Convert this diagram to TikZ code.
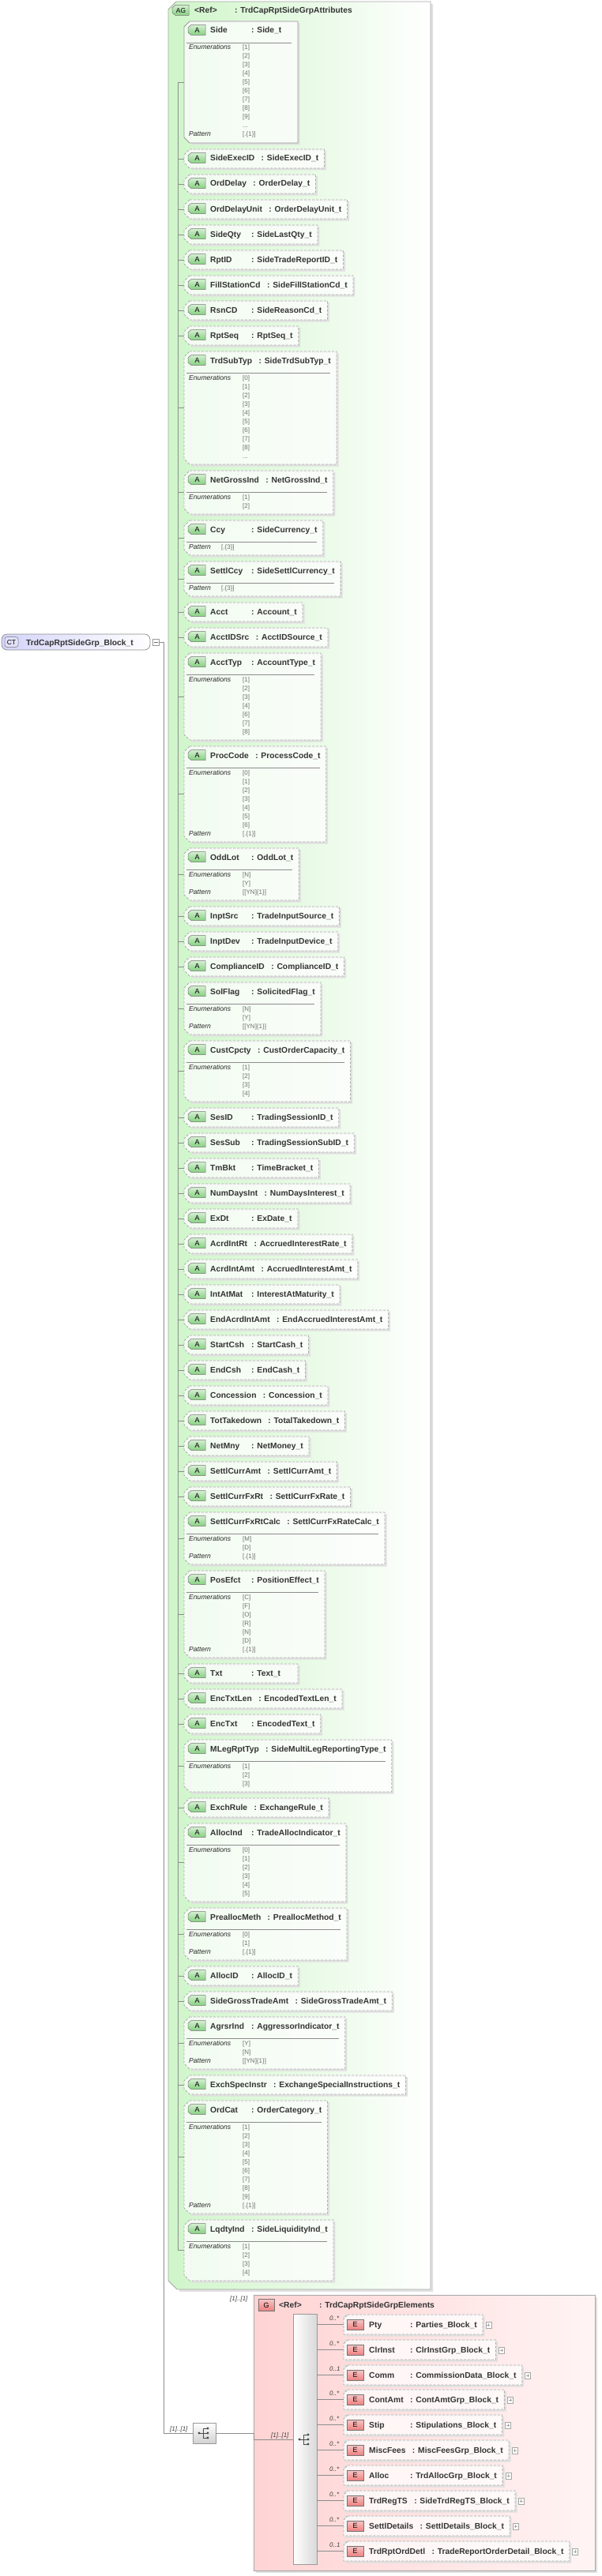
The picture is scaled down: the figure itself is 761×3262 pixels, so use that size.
\documentclass[tikz,border=0pt]{standalone}
\usepackage{fontspec}
\setmainfont{Liberation Sans}
\usetikzlibrary{calc}
\pgfdeclarelayer{bg}\pgfdeclarelayer{mid}
\pgfsetlayers{bg,mid,main}
\definecolor{agreen}{HTML}{CFF5C9}
\definecolor{icong}{HTML}{86D080}
\definecolor{gred}{HTML}{FFD3D3}
\definecolor{ered}{HTML}{EE8080}
\definecolor{ctblue}{HTML}{D4D4FA}
\definecolor{valgrey}{HTML}{707070}
\tikzset{
 hdr/.style={font=\bfseries\fontsize{10.3}{12}\selectfont, text=black!80, inner sep=0pt, anchor=base west},
 lab/.style={font=\itshape\fontsize{8.6}{10}\selectfont, text=black!85, inner sep=0pt, anchor=base west},
 val/.style={font=\fontsize{8}{10}\selectfont, text=valgrey, inner sep=0pt, anchor=base west},
 card/.style={font=\itshape\fontsize{8}{10}\selectfont, text=black!75, inner sep=0pt, anchor=base west},
 conn/.style={draw=black!45, line width=0.6pt},
 optbox/.style={draw=black!32, dash pattern=on 3pt off 2pt, fill=white, fill opacity=0.72, line width=0.8pt},
 reqbox/.style={draw=black!40, fill=white, fill opacity=0.72, line width=0.8pt},
 shbox/.style={fill=black!12, even odd rule},
}
\newdimen\tmpd
\newcount\attrn
\newcount\elemn
\def\hy{38}
\def\firstmid{}
\newcommand\aicon[3]{%
  \draw[draw=black!55, top color=icong!35, bottom color=icong, line width=0.5pt]
    (#1+4,#2-6.5) -- (#1+#3,#2-6.5) -- (#1+#3,#2+6.5) -- (#1+4,#2+6.5) -- (#1,#2+3) -- (#1,#2-3) -- cycle;
}
\newcommand\attr[6][optbox]{%
  \global\advance\attrn by 1
  \pgfmathsetmacro\ah{\hy}%
  \aicon{238}{\ah}{22}
  \node[font=\fontsize{9}{10}\selectfont, inner sep=0pt] (ai\the\attrn) at (249.5,\ah+0.5) {A};
  \node[hdr] (an\the\attrn) at (266,\ah+4) {#2};
  \pgfextractx{\tmpd}{\pgfpointanchor{an\the\attrn}{east}}%
  \pgfmathsetmacro\acx{max(318,\tmpd+8)}%
  \node[hdr] (at\the\attrn) at (\acx,\ah+4) {: #3};
  \pgfextractx{\tmpd}{\pgfpointanchor{at\the\attrn}{east}}%
  \pgfmathsetmacro\arx{max(377,\tmpd+7)}%
  \ifnum#4=0 \pgfmathsetmacro\abt{\ah+13}\else\pgfmathsetmacro\abt{\ah+22+11*#4}\fi
  \begin{pgfonlayer}{mid}
    \fill[shbox] (242,\ah-9) rectangle (\arx+2.5,\abt+2.5) (240,\ah-11) rectangle (\arx,\abt);
    \path[#1] (240,\ah-11) -- (\arx,\ah-11) -- (\arx,\abt) -- (240,\abt) -- (233,\abt-7) -- (233,\ah-4) -- cycle;
  \end{pgfonlayer}
  \ifnum#4>0
    \draw[black!45, line width=0.6pt] (236,\ah+16) -- (\arx-8,\ah+16);
    \foreach \lb/\vv [count=\k from 0] in {#5} {
      \node[lab] at (239,\ah+22+11*\k+3) {\lb};
      \node[val] at (#6,\ah+22+11*\k+3) {\vv};
    }
  \fi
  \pgfmathsetmacro\amid{(\ah-11+\abt)/2}%
  \draw[conn] (225,\amid) -- (233,\amid);
  \ifx\firstmid\empty\xdef\firstmid{\amid}\fi
  \xdef\lastmid{\amid}%
  \pgfmathsetmacro\nh{\abt+19}%
  \xdef\hy{\nh}%
}
\newcommand\elem[4]{% y, name, type, card
  \global\advance\elemn by 1
  \node[hdr] (en\the\elemn) at (467,#1+4) {#2};
  \pgfextractx{\tmpd}{\pgfpointanchor{en\the\elemn}{east}}%
  \pgfmathsetmacro\ecx{max(519,\tmpd+8)}%
  \node[hdr] (et\the\elemn) at (\ecx,#1+4) {: #3};
  \pgfextractx{\tmpd}{\pgfpointanchor{et\the\elemn}{east}}%
  \pgfmathsetmacro\erx{\tmpd+7}%
  \begin{pgfonlayer}{mid}
    \fill[shbox] (437,#1-10) rectangle (\erx+2.5,#1+15.5) (435,#1-12) rectangle (\erx,#1+13);
    \path[optbox] (440,#1-12) -- (\erx,#1-12) -- (\erx,#1+13) -- (435,#1+13) -- (435,#1-7) -- cycle;
  \end{pgfonlayer}
  \draw[draw=black!55, top color=ered!45, bottom color=ered, line width=0.5pt] (439,#1-6) rectangle (460,#1+7);
  \node[font=\fontsize{9}{10}\selectfont, inner sep=0pt] (ei\the\elemn) at (449.5,#1+0.8) {E};
  \draw[black!35, fill=white, line width=0.5pt] (\erx+4,#1-3) rectangle (\erx+11,#1+5);
  \draw[black!35, line width=0.5pt] (\erx+5.5,#1+1) -- (\erx+9.5,#1+1) (\erx+7.5,#1-1) -- (\erx+7.5,#1+3);
  \coordinate (ec\the\elemn) at (435,#1);
  \draw[conn] (bar.east |- ec\the\elemn) -- (ec\the\elemn);
  \node[card] at (417,#1-5) {#4};
}
\newcommand\seqsym[2]{%
  \draw[black!70, line width=0.7pt] (#1-7,#2) -- (#1-2,#2) (#1-2,#2-6) -- (#1-2,#2+6)
     (#1-2,#2-6) -- (#1+4,#2-6) (#1-2,#2) -- (#1+4,#2) (#1-2,#2+6) -- (#1+4,#2+6);
  \fill[black!70] (#1-7,#2) circle (1.7) (#1+4,#2-6) circle (1.7) (#1+4,#2) circle (1.7) (#1+4,#2+6) circle (1.7);
}
\begin{document}
\begin{tikzpicture}[x=1pt,y=-1pt]
\useasboundingbox (0,0) rectangle (761,3262);
% attribute group box
\begin{pgfonlayer}{bg}
  \fill[black!12] (224,5) -- (548,5) -- (548,2902) -- (227,2902) -- cycle;
  \path[draw=black!35, line width=0.8pt, left color=agreen, right color=white]
    (223,2) -- (545,2) -- (545,2899) -- (224,2899) -- (213,2888) -- (213,12) -- cycle;
\end{pgfonlayer}
\aicon{218}{13}{21}
\node[font=\fontsize{8.5}{10}\selectfont, inner sep=0pt] (agicon) at (229,13.5) {AG};
\node[hdr] (agref) at (246,17) {<Ref>};
\node[hdr] (agname) at (297,17) {: TrdCapRptSideGrpAttributes};

\attr[reqbox]{Side}{Side\_t}{11}{{Enumerations}/{[1]},{}/{[2]},{}/{[3]},{}/{[4]},{}/{[5]},{}/{[6]},{}/{[7]},{}/{[8]},{}/{[9]},{}/{...},{Pattern}/{[.\{1\}]}}{307}
\attr{SideExecID}{SideExecID\_t}{0}{}{307}
\attr{OrdDelay}{OrderDelay\_t}{0}{}{307}
\attr{OrdDelayUnit}{OrderDelayUnit\_t}{0}{}{307}
\attr{SideQty}{SideLastQty\_t}{0}{}{307}
\attr{RptID}{SideTradeReportID\_t}{0}{}{307}
\attr{FillStationCd}{SideFillStationCd\_t}{0}{}{307}
\attr{RsnCD}{SideReasonCd\_t}{0}{}{307}
\attr{RptSeq}{RptSeq\_t}{0}{}{307}
\attr{TrdSubTyp}{SideTrdSubTyp\_t}{10}{{Enumerations}/{[0]},{}/{[1]},{}/{[2]},{}/{[3]},{}/{[4]},{}/{[5]},{}/{[6]},{}/{[7]},{}/{[8]},{}/{...}}{307}
\attr{NetGrossInd}{NetGrossInd\_t}{2}{{Enumerations}/{[1]},{}/{[2]}}{307}
\attr{Ccy}{SideCurrency\_t}{1}{{Pattern}/{[.\{3\}]}}{280}
\attr{SettlCcy}{SideSettlCurrency\_t}{1}{{Pattern}/{[.\{3\}]}}{280}
\attr{Acct}{Account\_t}{0}{}{307}
\attr{AcctIDSrc}{AcctIDSource\_t}{0}{}{307}
\attr{AcctTyp}{AccountType\_t}{7}{{Enumerations}/{[1]},{}/{[2]},{}/{[3]},{}/{[4]},{}/{[6]},{}/{[7]},{}/{[8]}}{307}
\attr{ProcCode}{ProcessCode\_t}{8}{{Enumerations}/{[0]},{}/{[1]},{}/{[2]},{}/{[3]},{}/{[4]},{}/{[5]},{}/{[6]},{Pattern}/{[.\{1\}]}}{307}
\attr{OddLot}{OddLot\_t}{3}{{Enumerations}/{[N]},{}/{[Y]},{Pattern}/{[[YN]\{1\}]}}{307}
\attr{InptSrc}{TradeInputSource\_t}{0}{}{307}
\attr{InptDev}{TradeInputDevice\_t}{0}{}{307}
\attr{ComplianceID}{ComplianceID\_t}{0}{}{307}
\attr{SolFlag}{SolicitedFlag\_t}{3}{{Enumerations}/{[N]},{}/{[Y]},{Pattern}/{[[YN]\{1\}]}}{307}
\attr{CustCpcty}{CustOrderCapacity\_t}{4}{{Enumerations}/{[1]},{}/{[2]},{}/{[3]},{}/{[4]}}{307}
\attr{SesID}{TradingSessionID\_t}{0}{}{307}
\attr{SesSub}{TradingSessionSubID\_t}{0}{}{307}
\attr{TmBkt}{TimeBracket\_t}{0}{}{307}
\attr{NumDaysInt}{NumDaysInterest\_t}{0}{}{307}
\attr{ExDt}{ExDate\_t}{0}{}{307}
\attr{AcrdIntRt}{AccruedInterestRate\_t}{0}{}{307}
\attr{AcrdIntAmt}{AccruedInterestAmt\_t}{0}{}{307}
\attr{IntAtMat}{InterestAtMaturity\_t}{0}{}{307}
\attr{EndAcrdIntAmt}{EndAccruedInterestAmt\_t}{0}{}{307}
\attr{StartCsh}{StartCash\_t}{0}{}{307}
\attr{EndCsh}{EndCash\_t}{0}{}{307}
\attr{Concession}{Concession\_t}{0}{}{307}
\attr{TotTakedown}{TotalTakedown\_t}{0}{}{307}
\attr{NetMny}{NetMoney\_t}{0}{}{307}
\attr{SettlCurrAmt}{SettlCurrAmt\_t}{0}{}{307}
\attr{SettlCurrFxRt}{SettlCurrFxRate\_t}{0}{}{307}
\attr{SettlCurrFxRtCalc}{SettlCurrFxRateCalc\_t}{3}{{Enumerations}/{[M]},{}/{[D]},{Pattern}/{[.\{1\}]}}{307}
\attr{PosEfct}{PositionEffect\_t}{7}{{Enumerations}/{[C]},{}/{[F]},{}/{[O]},{}/{[R]},{}/{[N]},{}/{[D]},{Pattern}/{[.\{1\}]}}{307}
\attr{Txt}{Text\_t}{0}{}{307}
\attr{EncTxtLen}{EncodedTextLen\_t}{0}{}{307}
\attr{EncTxt}{EncodedText\_t}{0}{}{307}
\attr{MLegRptTyp}{SideMultiLegReportingType\_t}{3}{{Enumerations}/{[1]},{}/{[2]},{}/{[3]}}{307}
\attr{ExchRule}{ExchangeRule\_t}{0}{}{307}
\attr{AllocInd}{TradeAllocIndicator\_t}{6}{{Enumerations}/{[0]},{}/{[1]},{}/{[2]},{}/{[3]},{}/{[4]},{}/{[5]}}{307}
\attr{PreallocMeth}{PreallocMethod\_t}{3}{{Enumerations}/{[0]},{}/{[1]},{Pattern}/{[.\{1\}]}}{307}
\attr{AllocID}{AllocID\_t}{0}{}{307}
\attr{SideGrossTradeAmt}{SideGrossTradeAmt\_t}{0}{}{307}
\attr{AgrsrInd}{AggressorIndicator\_t}{3}{{Enumerations}/{[Y]},{}/{[N]},{Pattern}/{[[YN]\{1\}]}}{307}
\attr{ExchSpecInstr}{ExchangeSpecialInstructions\_t}{0}{}{307}
\attr{OrdCat}{OrderCategory\_t}{10}{{Enumerations}/{[1]},{}/{[2]},{}/{[3]},{}/{[4]},{}/{[5]},{}/{[6]},{}/{[7]},{}/{[8]},{}/{[9]},{Pattern}/{[.\{1\}]}}{307}
\attr{LqdtyInd}{SideLiquidityInd\_t}{4}{{Enumerations}/{[1]},{}/{[2]},{}/{[3]},{}/{[4]}}{307}
\draw[conn] (225,\firstmid) -- (225,\lastmid);

% complex type
\draw[draw=black!45, line width=0.7pt, left color=ctblue, right color=white, rounded corners=7pt] (2,803) rectangle (190,823);
\draw[draw=black!55, fill=ctblue!70, rounded corners=3pt, line width=0.5pt] (6,806.5) rectangle (23,819.5);
\node[font=\fontsize{8.5}{10}\selectfont, inner sep=0pt] (cticon) at (14.5,813.5) {CT};
\node[hdr] (ctname) at (33,817) {TrdCapRptSideGrp\_Block\_t};
\draw[black!40, fill=white, line width=0.5pt] (193,809) rectangle (201,817);
\draw[black!55, line width=0.5pt] (194.5,813) -- (199.5,813);
\coordinate (ctout) at (201,813);

% sequence
\node[draw=black!40, line width=0.6pt, top color=white, bottom color=black!18, minimum width=29pt, minimum height=26pt, inner sep=0pt] (seqA) at (258.5,3081) {};
\seqsym{259}{3081}
\draw[conn] (ctout) -- (207,813) -- (207,3081) -- (seqA.west);
\node[card] (seqAlab) at (215,3078) {[1]..[1]};

% element group
\begin{pgfonlayer}{bg}
  \fill[black!12] (324,2909) rectangle (756,3258);
  \path[draw=black!35, line width=0.8pt, left color=gred, right color=gred!25] (321,2906) rectangle (753,3255);
\end{pgfonlayer}
\node[card] (glab) at (291,2913) {[1]..[1]};
\draw[draw=black!55, top color=ered!45, bottom color=ered, line width=0.5pt] (327,2911) rectangle (347,2926);
\node[font=\fontsize{9}{10}\selectfont, inner sep=0pt] (gicon) at (337,2919) {G};
\node[hdr] (gref) at (353,2922) {<Ref>};
\node[hdr] (gname) at (404,2922) {: TrdCapRptSideGrpElements};
\node[draw=black!40, line width=0.6pt, left color=white, right color=black!15, minimum width=30pt, minimum height=317pt, inner sep=0pt] (bar) at (386,3088.5) {};
\seqsym{386}{3089}
\coordinate (gin) at (321,3081);
\draw[conn] (seqA.east) -- (gin) -- (321,3089) -- (bar.west |- 0,3089);
\node[card] (barlab) at (343,3086) {[1]..[1]};

\elem{2943}{Pty}{Parties\_Block\_t}{0..*}
\elem{2975}{ClrInst}{ClrInstGrp\_Block\_t}{0..*}
\elem{3007}{Comm}{CommissionData\_Block\_t}{0..1}
\elem{3038}{ContAmt}{ContAmtGrp\_Block\_t}{0..*}
\elem{3070}{Stip}{Stipulations\_Block\_t}{0..*}
\elem{3102}{MiscFees}{MiscFeesGrp\_Block\_t}{0..*}
\elem{3134}{Alloc}{TrdAllocGrp\_Block\_t}{0..*}
\elem{3166}{TrdRegTS}{SideTrdRegTS\_Block\_t}{0..*}
\elem{3198}{SettlDetails}{SettlDetails\_Block\_t}{0..*}
\elem{3230}{TrdRptOrdDetl}{TradeReportOrderDetail\_Block\_t}{0..1}
\end{tikzpicture}
\end{document}
